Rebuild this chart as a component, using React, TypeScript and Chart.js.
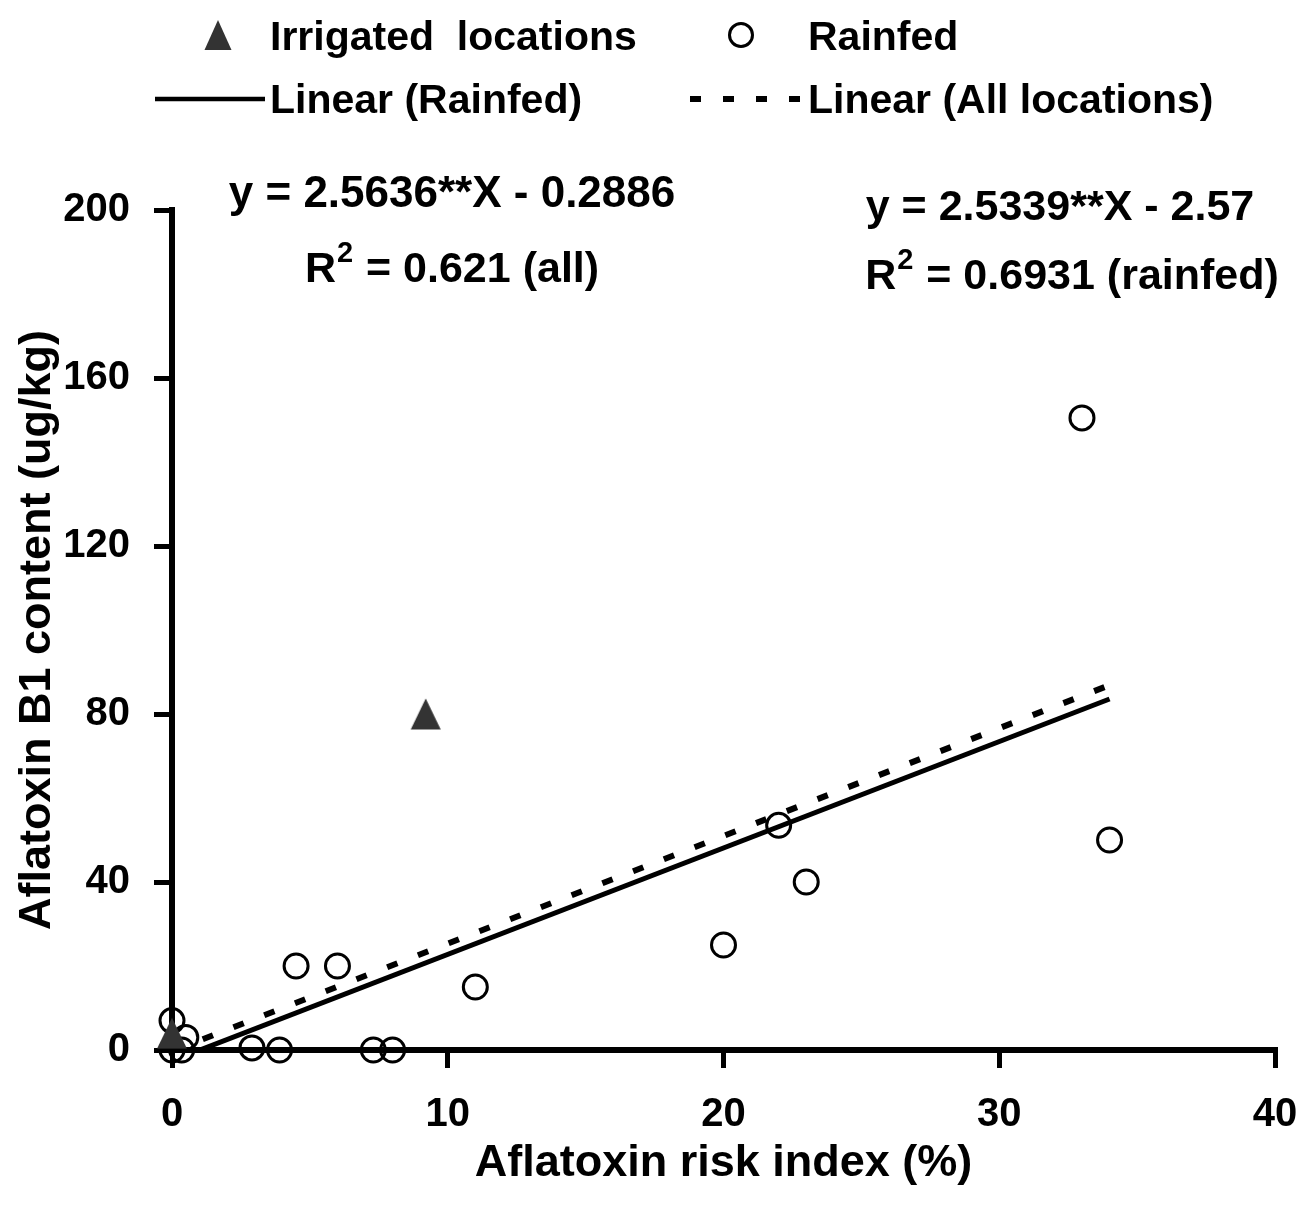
import React, { useEffect, useRef } from "react";
import { Chart, registerables } from "chart.js";

Chart.register(...registerables);

const FONT = "'Liberation Sans', Arial, Helvetica, sans-serif";

// ---- data ----
const irrigatedX = [9.2, 0];
const irrigatedY = [80, 4];

const rainfedX = [0, 0.5, 0, 0.35, 2.9, 3.9, 7.3, 8.0, 4.5, 6.0, 11.0, 20.0, 22.0, 23.0, 33.0, 34.0];
const rainfedY = [7, 3, 0, 0, 0.5, 0, 0, 0, 20, 20, 15, 25, 53.5, 40, 150.5, 50];

// trendline end points (x range 0..34, from the printed equations)
const trendRainfedX = [0, 34];
const trendRainfedY = [-2.57, 83.58];
const trendAllX = [0, 34];
const trendAllY = [-0.29, 86.87];

const xTicks = [0, 10, 20, 30, 40];
const yTicks = [0, 40, 80, 120, 160, 200];

const legendLabels = ["Irrigated  locations", "Rainfed", "Linear (Rainfed)", "Linear (All locations)"];
const eqAll = ["y = 2.5636**X - 0.2886", " = 0.621 (all)"];
const eqRainfed = ["y = 2.5339**X - 2.57", " = 0.6931 (rainfed)"];

const xTitle = "Aflatoxin risk index (%)";
const yTitle = "Aflatoxin B1 content (ug/kg)";

function zip(xs: number[], ys: number[]) {
  return xs.map((x, i) => ({ x, y: ys[i] }));
}

function drawTri(ctx: CanvasRenderingContext2D, cx: number, cy: number, w: number, h: number, color: string) {
  ctx.beginPath();
  ctx.moveTo(cx, cy - h / 2);
  ctx.lineTo(cx + w / 2, cy + h / 2);
  ctx.lineTo(cx - w / 2, cy + h / 2);
  ctx.closePath();
  ctx.fillStyle = color;
  ctx.fill();
}

function makeTriangleImage() {
  const c = document.createElement("canvas");
  c.width = 32;
  c.height = 32;
  const g = c.getContext("2d")!;
  drawTri(g, 16, 16, 30, 31, "#333333");
  return c;
}

function drawR2(ctx: CanvasRenderingContext2D, cx: number, baseline: number, rest: string) {
  const big = `bold 43px ${FONT}`;
  const small = `bold 29px ${FONT}`;
  ctx.font = big;
  const wR = ctx.measureText("R").width;
  const wRest = ctx.measureText(rest).width;
  ctx.font = small;
  const w2 = ctx.measureText("2").width + 2;
  const total = wR + w2 + wRest;
  let x = cx - total / 2;
  ctx.textAlign = "left";
  ctx.font = big;
  ctx.fillText("R", x, baseline);
  x += wR + 1;
  ctx.font = small;
  ctx.fillText("2", x, baseline - 20);
  x += w2 - 1;
  ctx.font = big;
  ctx.fillText(rest, x, baseline);
}

const overlayPlugin = {
  id: "overlay",
  afterDraw(chart: any) {
    const ctx: CanvasRenderingContext2D = chart.ctx;
    ctx.save();
    ctx.fillStyle = "#000";
    ctx.strokeStyle = "#000";
    ctx.textBaseline = "alphabetic";
    ctx.textAlign = "left";

    // legend
    ctx.font = `bold 41px ${FONT}`;
    drawTri(ctx, 218, 35, 27, 30, "#333333");
    ctx.fillStyle = "#000";
    ctx.fillText(legendLabels[0], 270, 50);
    ctx.beginPath();
    ctx.arc(741, 35, 11.5, 0, Math.PI * 2);
    ctx.lineWidth = 3;
    ctx.stroke();
    ctx.fillText(legendLabels[1], 808, 50);

    ctx.lineWidth = 4.5;
    ctx.beginPath();
    ctx.moveTo(155, 99);
    ctx.lineTo(265, 99);
    ctx.stroke();
    ctx.fillText(legendLabels[2], 270, 113);

    ctx.lineWidth = 6;
    ctx.setLineDash([11, 22]);
    ctx.beginPath();
    ctx.moveTo(690, 99);
    ctx.lineTo(800, 99);
    ctx.stroke();
    ctx.setLineDash([]);
    ctx.fillText(legendLabels[3], 808, 113);

    // equations
    ctx.font = `bold 44px ${FONT}`;
    ctx.textAlign = "center";
    ctx.fillText(eqAll[0], 452, 207);
    drawR2(ctx, 452, 282, eqAll[1]);
    ctx.font = `bold 43px ${FONT}`;
    ctx.textAlign = "center";
    ctx.fillText(eqRainfed[0], 1060, 220);
    drawR2(ctx, 1072, 289, eqRainfed[1]);

    ctx.restore();
  },
};

export default function App() {
  const ref = useRef<HTMLCanvasElement>(null);

  useEffect(() => {
    if (!ref.current) return;
    const tri = makeTriangleImage();
    const tickFont = { family: FONT, size: 40, weight: "bold" as const };
    const titleFont = { family: FONT, size: 45, weight: "bold" as const };

    const chart = new Chart(ref.current, {
      type: "scatter",
      data: {
        datasets: [
          {
            label: legendLabels[0],
            data: zip(irrigatedX, irrigatedY),
            pointStyle: tri as any,
            pointRadius: 16,
            backgroundColor: "#333333",
            borderColor: "#333333",
            clip: false as any,
          },
          {
            label: legendLabels[1],
            data: zip(rainfedX, rainfedY),
            pointStyle: "circle",
            pointRadius: 12,
            borderWidth: 3,
            borderColor: "#000",
            backgroundColor: "rgba(0,0,0,0)",
            clip: false as any,
          },
          {
            label: legendLabels[2],
            data: zip(trendRainfedX, trendRainfedY),
            showLine: true,
            pointRadius: 0,
            borderWidth: 5,
            borderColor: "#000",
            backgroundColor: "#000",
            clip: 0 as any,
          },
          {
            label: legendLabels[3],
            data: zip(trendAllX, trendAllY),
            showLine: true,
            pointRadius: 0,
            borderWidth: 6,
            borderDash: [11, 22],
            borderColor: "#000",
            backgroundColor: "#000",
            clip: 0 as any,
          },
        ],
      },
      options: {
        responsive: false,
        animation: false,
        devicePixelRatio: 1,
        events: [],
        layout: { padding: { top: 210, right: 29, left: 0, bottom: 0 } },
        plugins: {
          legend: { display: false },
          tooltip: { enabled: false },
        },
        scales: {
          x: {
            type: "linear",
            min: 0,
            max: 40,
            afterFit: (s: any) => {
              s.height = 170;
              s.paddingLeft = 0;
              s.paddingRight = 0;
            },
            afterBuildTicks: (s: any) => {
              s.ticks = xTicks.map((v) => ({ value: v }));
            },
            grid: { display: true, drawOnChartArea: false, drawTicks: true, tickLength: 18, lineWidth: 5, color: "#000" },
            border: { display: true, width: 6, color: "#000" },
            ticks: { color: "#000", font: tickFont, padding: 23, maxRotation: 0, autoSkip: false },
            title: { display: true, text: xTitle, color: "#000", font: titleFont, padding: { top: 0, bottom: 29 } },
          },
          y: {
            type: "linear",
            min: 0,
            max: 200,
            afterFit: (s: any) => {
              s.width = 172;
              s.paddingTop = 0;
              s.paddingBottom = 0;
            },
            afterBuildTicks: (s: any) => {
              s.ticks = yTicks.map((v) => ({ value: v }));
            },
            grid: { display: true, drawOnChartArea: false, drawTicks: true, tickLength: 18, lineWidth: 5, color: "#000" },
            border: { display: true, width: 6, color: "#000" },
            ticks: { color: "#000", font: tickFont, padding: 24, autoSkip: false },
            title: { display: true, text: yTitle, color: "#000", font: titleFont, padding: { top: 11, bottom: 0 } },
          },
        },
      },
      plugins: [overlayPlugin],
    });
    return () => chart.destroy();
  }, []);

  return (
    <div style={{ position: "fixed", left: 0, top: 0, width: 1304, height: 1220, background: "#fff" }}>
      <canvas ref={ref} width={1304} height={1220} style={{ display: "block", width: 1304, height: 1220 }} />
    </div>
  );
}
